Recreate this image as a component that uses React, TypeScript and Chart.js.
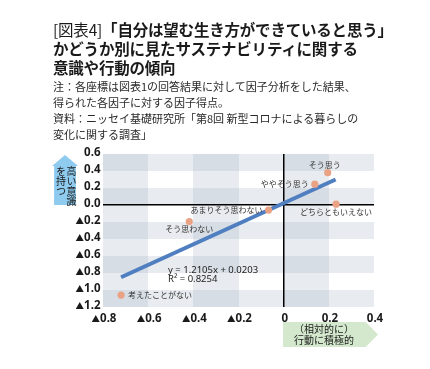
import { useEffect, useRef } from "react";
import { Chart, registerables } from "chart.js";

Chart.register(...registerables);

// ---- data ----
const categories = [
  "そう思う",
  "ややそう思う",
  "どちらともいえない",
  "あまりそう思わない",
  "そう思わない",
  "考えたことがない",
];
const behaviorScores = [0.195, 0.138, 0.232, -0.067, -0.418, -0.72];
const awarenessScores = [0.38, 0.245, 0.01, -0.06, -0.195, -1.06];
const trendX = [-0.72, 0.23];
const trendY = [-0.85, 0.3];
const equationLines = ["y = 1.2105x + 0.0203", "R² = 0.8254"];
const xTickLabels = ["▲0.8", "▲0.6", "▲0.4", "▲0.2", "0", "0.2", "0.4"];
const yTickLabels = ["0.6", "0.4", "0.2", "0.0", "▲0.2", "▲0.4", "▲0.6", "▲0.8", "▲1.0", "▲1.2"];
const xTickValues = [-0.8, -0.6, -0.4, -0.2, 0, 0.2, 0.4];
const yTickValues = [0.6, 0.4, 0.2, 0, -0.2, -0.4, -0.6, -0.8, -1.0, -1.2];

// label placement (style)
const labelSide = ["above", "left", "below", "left", "below", "right"];

const CJK = '"Noto Sans CJK JP", "Noto Sans", sans-serif';
const NUM_FONT = 'bold 11.5px "Noto Sans", sans-serif';
const TRI_FONT = '8.5px "Noto Sans CJK JP", sans-serif';

function drawTickText(ctx: any, text: string, x: number, y: number, align: string) {
  const tri = text.startsWith("▲");
  const num = tri ? text.slice(1) : text;
  ctx.font = NUM_FONT;
  const wn = ctx.measureText(num).width;
  ctx.font = TRI_FONT;
  const wt = tri ? ctx.measureText("▲").width : 0;
  const total = wn + wt;
  const x0 = align === "right" ? x - total : align === "center" ? x - total / 2 : x;
  ctx.textAlign = "left";
  ctx.textBaseline = "alphabetic";
  if (tri) {
    ctx.font = TRI_FONT;
    ctx.fillText("▲", x0, y);
  }
  ctx.font = NUM_FONT;
  ctx.fillText(num, x0 + wt, y);
}

const bandsPlugin = {
  id: "bands",
  beforeDraw(chart: any) {
    const { ctx, scales } = chart;
    const x = scales.x;
    const y = scales.y;
    ctx.save();
    ctx.fillStyle = "#ffffff";
    ctx.fillRect(0, 0, chart.width, chart.height);
    for (let i = 0; i < xTickValues.length - 1; i++) {
      const x0 = Math.round(x.getPixelForValue(xTickValues[i]));
      const x1 = Math.round(x.getPixelForValue(xTickValues[i + 1]));
      for (let j = 0; j < yTickValues.length - 1; j++) {
        const y0 = Math.round(y.getPixelForValue(yTickValues[j]));
        const y1 = Math.round(y.getPixelForValue(yTickValues[j + 1]));
        const darkCol = i % 2 === 0;
        const shadedRow = j % 2 === 0;
        ctx.fillStyle =
          darkCol && shadedRow ? "#d6dde4" : darkCol || shadedRow ? "#e8ebef" : "#ffffff";
        ctx.fillRect(x0, y0, x1 - x0, y1 - y0);
      }
    }
    ctx.restore();
  },
};

const tickLabelsPlugin = {
  id: "tickLabels",
  afterDraw(chart: any) {
    const { ctx, scales, chartArea } = chart;
    ctx.save();
    ctx.fillStyle = "#1a1a1a";
    xTickValues.forEach((v, i) => {
      drawTickText(ctx, xTickLabels[i], scales.x.getPixelForValue(v) + 1, chartArea.bottom + 15, "center");
    });
    yTickValues.forEach((v, i) => {
      drawTickText(ctx, yTickLabels[i], chartArea.left - 2.5, scales.y.getPixelForValue(v) + 2, "right");
    });
    ctx.restore();
  },
};

const labelsPlugin = {
  id: "pointLabels",
  afterDatasetsDraw(chart: any) {
    const { ctx, scales } = chart;
    const x = scales.x;
    const y = scales.y;
    ctx.save();
    ctx.fillStyle = "#333333";
    ctx.font = `8px ${CJK}`;
    categories.forEach((name, i) => {
      const px = x.getPixelForValue(behaviorScores[i]);
      const py = y.getPixelForValue(awarenessScores[i]);
      const side = labelSide[i];
      ctx.textBaseline = "middle";
      if (side === "above") {
        ctx.textAlign = "center";
        ctx.fillText(name, px - 3, py - 8);
      } else if (side === "below") {
        ctx.textAlign = "center";
        ctx.fillText(name, px, py + 7.5);
      } else if (side === "left") {
        ctx.textAlign = "right";
        ctx.fillText(name, px - 6, py);
      } else {
        ctx.textAlign = "left";
        ctx.fillText(name, px + 7, py);
      }
    });
    // regression equation
    ctx.font = '9.5px "Noto Sans", sans-serif';
    ctx.fillStyle = "#222222";
    ctx.textAlign = "left";
    ctx.textBaseline = "middle";
    const ex = x.getPixelForValue(-0.512);
    const ey = y.getPixelForValue(-0.765);
    ctx.fillText(equationLines[0], ex, ey);
    ctx.fillText(equationLines[1], ex, ey + 9);
    ctx.restore();
  },
};

export default function App() {
  const canvasRef = useRef<HTMLCanvasElement | null>(null);

  useEffect(() => {
    document.body.style.margin = "0";
    const canvas = canvasRef.current;
    if (!canvas) return;
    const chart = new Chart(canvas, {
      type: "scatter",
      data: {
        datasets: [
          {
            label: "points",
            data: behaviorScores.map((v, i) => ({ x: v, y: awarenessScores[i] })),
            backgroundColor: "#e9a284",
            borderWidth: 0,
            pointRadius: 3.6,
            pointHoverRadius: 3.6,
          },
          {
            type: "line",
            label: "trend",
            data: trendX.map((v, i) => ({ x: v, y: trendY[i] })),
            borderColor: "#4f7fc0",
            borderWidth: 4,
            pointRadius: 0,
            fill: false,
            showLine: true,
          } as any,
        ],
      },
      options: {
        responsive: false,
        maintainAspectRatio: false,
        animation: false,
        devicePixelRatio: 1,
        layout: { padding: { top: 154, left: 0, right: 56, bottom: 0 } },
        plugins: {
          legend: { display: false },
          tooltip: { enabled: false },
          title: { display: false },
        },
        scales: {
          x: {
            type: "linear",
            min: -0.8,
            max: 0.4,
            afterFit: (s: any) => {
              s.height = 62;
            },
            afterBuildTicks: (s: any) => {
              s.ticks = xTickValues.map((v) => ({ value: v }));
            },
            ticks: { display: false },
            grid: {
              drawTicks: false,
              lineWidth: 1.5,
              color: (c: any) =>
                c.tick && Math.abs(c.tick.value) < 1e-9 ? "#000000" : "rgba(0,0,0,0)",
            },
            border: { display: false },
          },
          y: {
            type: "linear",
            min: -1.2,
            max: 0.6,
            afterFit: (s: any) => {
              s.width = 103;
            },
            afterBuildTicks: (s: any) => {
              s.ticks = yTickValues.map((v) => ({ value: v }));
            },
            ticks: { display: false },
            grid: {
              drawTicks: false,
              lineWidth: 1.5,
              color: (c: any) =>
                c.tick && Math.abs(c.tick.value) < 1e-9 ? "#000000" : "rgba(0,0,0,0)",
            },
            border: { display: false },
          },
        },
      },
      plugins: [bandsPlugin, labelsPlugin, tickLabelsPlugin],
    });
    return () => chart.destroy();
  }, []);

  const titleStyle: any = {
    position: "absolute",
    left: 53,
    top: 20,
    fontFamily: CJK,
    fontSize: 15.5,
    lineHeight: "19px",
    color: "#1a1a1a",
    fontWeight: 700,
    whiteSpace: "nowrap",
    letterSpacing: "-0.2px",
  };
  const noteStyle: any = {
    position: "absolute",
    left: 53,
    top: 78,
    fontFamily: CJK,
    fontSize: 11,
    lineHeight: "16px",
    color: "#2a2a2a",
    whiteSpace: "nowrap",
  };

  return (
    <div
      style={{
        position: "fixed",
        left: 0,
        top: 0,
        width: 430,
        height: 369,
        background: "#ffffff",
        overflow: "hidden",
      }}
    >
      <canvas ref={canvasRef} width={430} height={369} style={{ position: "absolute", left: 0, top: 0 }} />
      <div style={titleStyle}>
        <div>
          <span style={{ fontWeight: 400 }}>[図表4]</span>「自分は望む生き方ができていると思う」
        </div>
        <div>かどうか別に見たサステナビリティに関する</div>
        <div>意識や行動の傾向</div>
      </div>
      <div style={noteStyle}>
        <div>注：各座標は図表1の回答結果に対して因子分析をした結果、</div>
        <div>得られた各因子に対する因子得点。</div>
        <div>資料：ニッセイ基礎研究所「第8回 新型コロナによる暮らしの</div>
        <div>変化に関する調査」</div>
      </div>
      {/* blue up arrow */}
      <div
        style={{
          position: "absolute",
          left: 52,
          top: 155,
          width: 26,
          height: 50,
          background: "#8ecbee",
          clipPath: "polygon(50% 0%, 100% 22%, 92% 22%, 92% 100%, 8% 100%, 8% 22%, 0% 22%)",
        }}
      />
      <div
        style={{
          position: "absolute",
          left: 55,
          top: 166,
          height: 40,
          width: 21,
          writingMode: "vertical-rl",
          fontFamily: CJK,
          fontSize: 10,
          lineHeight: "10.5px",
          color: "#1a1a1a",
          whiteSpace: "nowrap",
        }}
      >
        <div>高い意識</div>
        <div>を持つ</div>
      </div>
      {/* green right arrow */}
      <div
        style={{
          position: "absolute",
          left: 283,
          top: 322,
          width: 95,
          height: 25,
          background: "#d3e8cc",
          clipPath: "polygon(0% 0%, 87% 0%, 100% 50%, 87% 100%, 0% 100%)",
        }}
      />
      <div
        style={{
          position: "absolute",
          left: 283,
          top: 323,
          width: 82,
          textAlign: "center",
          fontFamily: CJK,
          fontSize: 10,
          lineHeight: "11px",
          color: "#1a1a1a",
          whiteSpace: "nowrap",
        }}
      >
        <div>（相対的に）</div>
        <div>行動に積極的</div>
      </div>
    </div>
  );
}
